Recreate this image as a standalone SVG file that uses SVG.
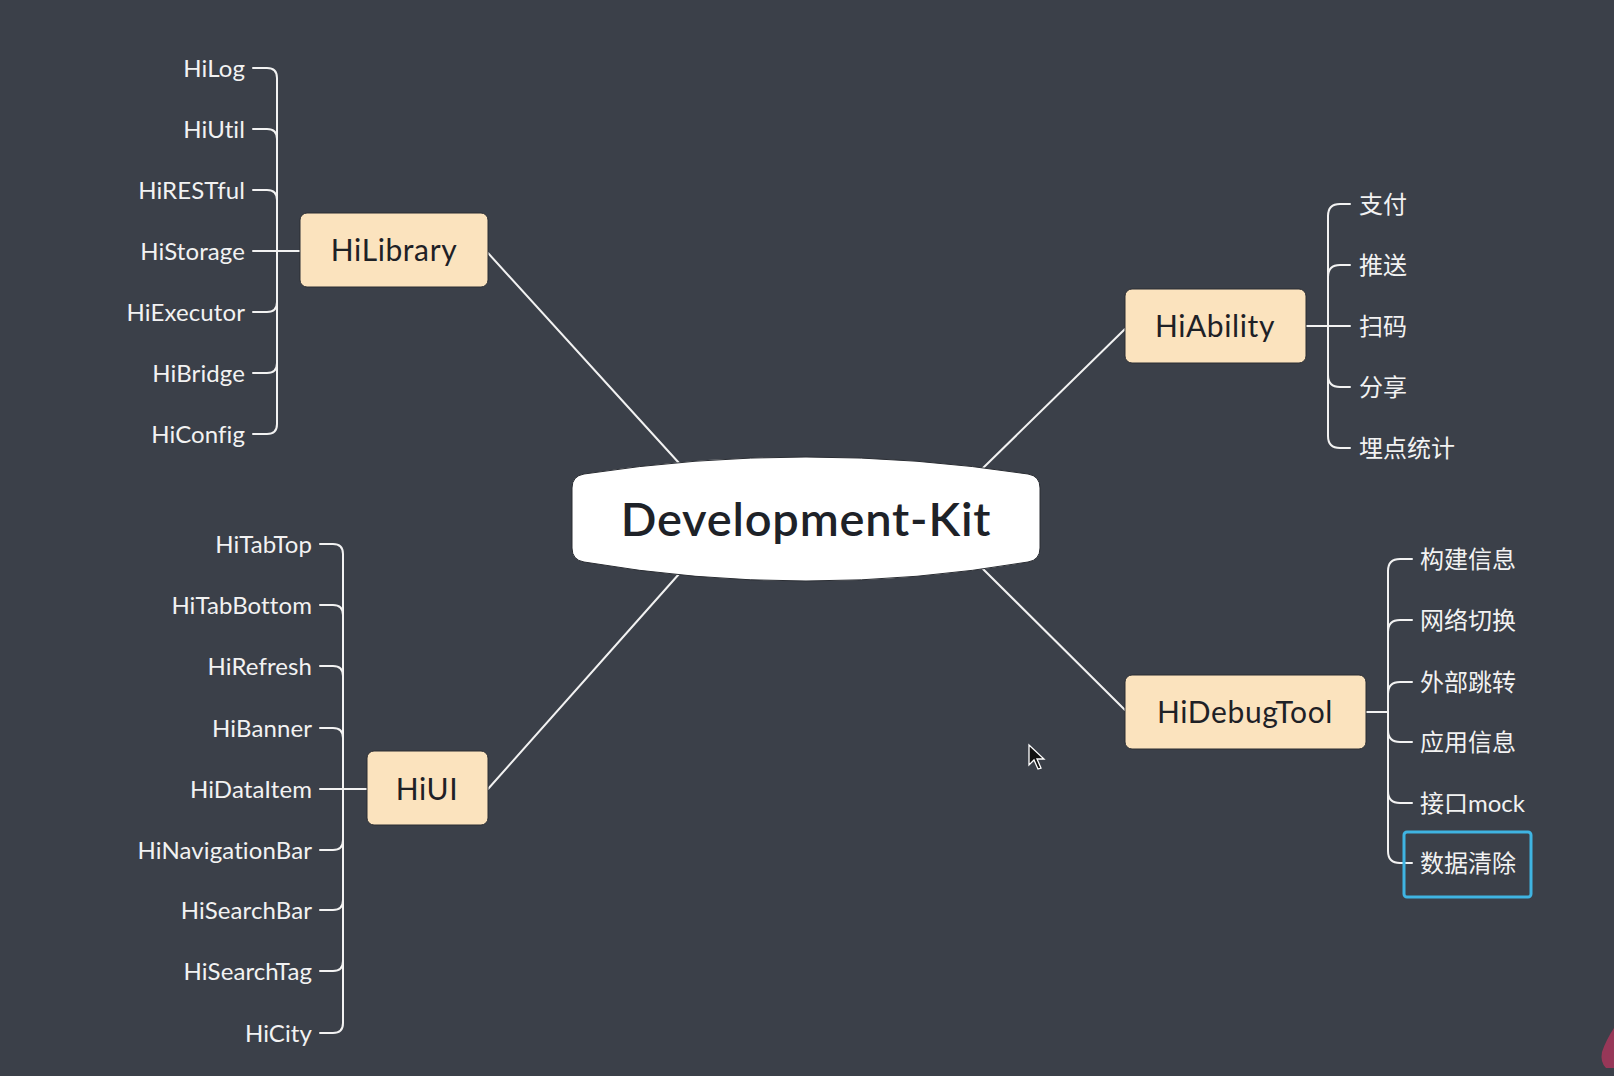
<svg xmlns="http://www.w3.org/2000/svg" width="1614" height="1076" viewBox="0 0 1614 1076">
<style>
.bg{fill:#3b4049}
.ln{fill:none;stroke:#f2f2f2;stroke-width:2;stroke-linecap:round}
.box{fill:#fbe3be;stroke:#2a2d33;stroke-width:1}
.bt{font-family:Lato,"Noto Sans",sans-serif;font-size:30px;letter-spacing:0.6px;fill:#1e2126;text-anchor:middle}
.lt{font-family:Lato,"Noto Sans",sans-serif;font-size:24px;letter-spacing:0.1px;fill:#f2f2f2;text-anchor:end}
.rt{font-family:Lato,"Noto Sans CJK SC",sans-serif;font-size:24px;fill:#f2f2f2}
.ct{font-family:Lato,"Noto Sans",sans-serif;font-size:47px;letter-spacing:0.8px;font-weight:600;fill:#1e2228;text-anchor:middle}
</style>
<rect class="bg" x="0" y="0" width="1614" height="1076"/>
<g id="connectors">
  <path class="ln" d="M488 253 L679 463"/>
  <path class="ln" d="M488 789 L679 574"/>
  <path class="ln" d="M983 468 L1125 329"/>
  <path class="ln" d="M983 569 L1125 710"/>
  <!-- HiLibrary children -->
  <path class="ln" d="M253 68 H267 Q277 68 277 78 V251"/>
  <path class="ln" d="M253 129 H267 Q277 129 277 139 V251"/>
  <path class="ln" d="M253 190 H267 Q277 190 277 200 V251"/>
  <path class="ln" d="M253 251 H300"/>
  <path class="ln" d="M253 312 H267 Q277 312 277 302 V251"/>
  <path class="ln" d="M253 373 H267 Q277 373 277 363 V251"/>
  <path class="ln" d="M253 434 H267 Q277 434 277 424 V251"/>
  <!-- HiUI children -->
  <path class="ln" d="M320 544 H333 Q343 544 343 554 V789"/>
  <path class="ln" d="M320 605 H333 Q343 605 343 615 V789"/>
  <path class="ln" d="M320 666 H333 Q343 666 343 676 V789"/>
  <path class="ln" d="M320 728 H333 Q343 728 343 738 V789"/>
  <path class="ln" d="M320 789 H367"/>
  <path class="ln" d="M320 850 H333 Q343 850 343 840 V789"/>
  <path class="ln" d="M320 910 H333 Q343 910 343 900 V789"/>
  <path class="ln" d="M320 971 H333 Q343 971 343 961 V789"/>
  <path class="ln" d="M320 1033 H333 Q343 1033 343 1023 V789"/>
  <!-- HiAbility children -->
  <path class="ln" d="M1306 326 H1350"/>
  <path class="ln" d="M1350 204 H1340 Q1328 204 1328 216 V326"/>
  <path class="ln" d="M1350 265 H1340 Q1328 265 1328 277 V326"/>
  <path class="ln" d="M1350 387 H1340 Q1328 387 1328 375 V326"/>
  <path class="ln" d="M1350 448 H1340 Q1328 448 1328 436 V326"/>
  <!-- HiDebugTool children -->
  <path class="ln" d="M1366 712 H1388"/>
  <path class="ln" d="M1412 559 H1400 Q1388 559 1388 571 V712"/>
  <path class="ln" d="M1412 620 H1400 Q1388 620 1388 632 V712"/>
  <path class="ln" d="M1412 682 H1400 Q1388 682 1388 694 V712"/>
  <path class="ln" d="M1412 742 H1400 Q1388 742 1388 730 V712"/>
  <path class="ln" d="M1412 803 H1400 Q1388 803 1388 791 V712"/>
  <path class="ln" d="M1412 863 H1400 Q1388 863 1388 851 V712"/>
</g>
<g id="root">
  <path d="M584 474 Q806 440 1028 474 Q1040 476 1040 488 L1040 548 Q1040 560 1028 562 Q806 600 584 562 Q572 560 572 548 L572 488 Q572 476 584 474 Z" fill="#ffffff" stroke="#2a2d33" stroke-width="1"/>
  <text class="ct" x="806" y="536">Development-Kit</text>
</g>
<g id="HiLibrary">
  <rect class="box" x="300" y="213" width="188" height="74" rx="7"/>
  <text class="bt" x="394" y="261">HiLibrary</text>
</g>
<g id="HiUI">
  <rect class="box" x="367" y="751" width="121" height="74" rx="7"/>
  <text class="bt" x="427" y="800">HiUI</text>
</g>
<g id="HiAbility">
  <rect class="box" x="1125" y="289" width="181" height="74" rx="7"/>
  <text class="bt" x="1215" y="337">HiAbility</text>
</g>
<g id="HiDebugTool">
  <rect class="box" x="1125" y="675" width="241" height="74" rx="7"/>
  <text class="bt" x="1245" y="723">HiDebugTool</text>
</g>
<g id="lib-children">
  <text class="lt" x="245" y="77">HiLog</text>
  <text class="lt" x="245" y="138">HiUtil</text>
  <text class="lt" x="245" y="199">HiRESTful</text>
  <text class="lt" x="245" y="260">HiStorage</text>
  <text class="lt" x="245" y="321">HiExecutor</text>
  <text class="lt" x="245" y="382">HiBridge</text>
  <text class="lt" x="245" y="443">HiConfig</text>
</g>
<g id="ui-children">
  <text class="lt" x="312" y="553">HiTabTop</text>
  <text class="lt" x="312" y="614">HiTabBottom</text>
  <text class="lt" x="312" y="675">HiRefresh</text>
  <text class="lt" x="312" y="737">HiBanner</text>
  <text class="lt" x="312" y="798">HiDataItem</text>
  <text class="lt" x="312" y="859">HiNavigationBar</text>
  <text class="lt" x="312" y="919">HiSearchBar</text>
  <text class="lt" x="312" y="980">HiSearchTag</text>
  <text class="lt" x="312" y="1042">HiCity</text>
</g>
<g id="ability-children">
  <text class="rt" x="1359" y="213">支付</text>
  <text class="rt" x="1359" y="274">推送</text>
  <text class="rt" x="1359" y="335">扫码</text>
  <text class="rt" x="1359" y="396">分享</text>
  <text class="rt" x="1359" y="457">埋点统计</text>
</g>
<g id="debug-children">
  <text class="rt" x="1420" y="568">构建信息</text>
  <text class="rt" x="1420" y="629">网络切换</text>
  <text class="rt" x="1420" y="691">外部跳转</text>
  <text class="rt" x="1420" y="751">应用信息</text>
  <text class="rt" x="1420" y="812">接口mock</text>
  <rect x="1404" y="832" width="127" height="65" rx="3" fill="none" stroke="#3fb4e2" stroke-width="3"/>
  <text class="rt" x="1420" y="872">数据清除</text>
</g>
<path d="M1029 745 L1029 765 L1034 760 L1038 769 L1041 768 L1037 759 L1044 759 Z" fill="#111" stroke="#fff" stroke-width="1.3"/>
<path d="M1614 1028 Q1606 1040 1602 1052 Q1600 1062 1606 1068 L1614 1068 Z" fill="#a8365a" opacity="0.85"/>
</svg>
